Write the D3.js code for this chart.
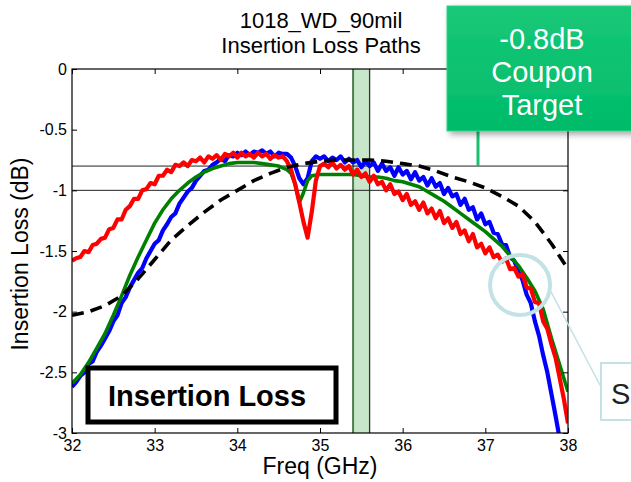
<!DOCTYPE html>
<html><head><meta charset="utf-8">
<script src="https://cdn.jsdelivr.net/npm/d3@7/dist/d3.min.js"></script>
<style>
body{margin:0;background:#fff}
svg{display:block}
text{font-family:"Liberation Sans",Arial,Helvetica,sans-serif}
</style>
</head><body>
<svg id="chart" width="631" height="482"></svg>
<script>
// ---------- data ----------
const titleLines = ["1018_WD_90mil", "Insertion Loss Paths"];
const xTicks = [32, 33, 34, 35, 36, 37, 38];
const yTicks = [0, -0.5, -1, -1.5, -2, -2.5, -3];
const refLines = [-0.8, -1];
const band = [35.4, 35.6];

const blue = [
[32.00,-2.62],[32.05,-2.58],[32.10,-2.53],[32.15,-2.50],[32.20,-2.43],[32.25,-2.41],[32.30,-2.33],[32.35,-2.28],[32.40,-2.22],[32.45,-2.16],
[32.50,-2.08],[32.55,-2.03],[32.60,-1.93],[32.65,-1.88],[32.70,-1.80],[32.75,-1.74],[32.80,-1.68],[32.85,-1.64],[32.90,-1.56],[32.95,-1.50],
[33.00,-1.44],[33.05,-1.41],[33.10,-1.33],[33.15,-1.28],[33.20,-1.22],[33.25,-1.19],[33.30,-1.11],[33.35,-1.06],[33.40,-1.01],[33.45,-0.98],
[33.50,-0.92],[33.55,-0.88],[33.60,-0.84],[33.65,-0.83],[33.70,-0.79],[33.75,-0.77],[33.80,-0.74],[33.85,-0.76],[33.90,-0.71],[33.95,-0.72],
[34.00,-0.69],[34.05,-0.71],[34.10,-0.68],[34.15,-0.71],[34.20,-0.68],[34.25,-0.69],[34.30,-0.67],[34.35,-0.70],[34.40,-0.68],[34.45,-0.72],
[34.50,-0.69],[34.55,-0.70],[34.60,-0.70],[34.65,-0.73],[34.70,-0.80],[34.75,-0.90],[34.80,-0.95],[34.85,-0.90],[34.90,-0.76],[34.95,-0.72],
[35.00,-0.74],[35.05,-0.72],[35.10,-0.76],[35.15,-0.73],[35.20,-0.75],[35.25,-0.72],[35.30,-0.77],[35.35,-0.74],[35.40,-0.77],[35.45,-0.75],
[35.50,-0.81],[35.55,-0.76],[35.60,-0.80],[35.65,-0.77],[35.70,-0.84],[35.75,-0.78],[35.80,-0.84],[35.85,-0.81],[35.90,-0.88],[35.95,-0.81],
[36.00,-0.87],[36.05,-0.84],[36.10,-0.91],[36.15,-0.85],[36.20,-0.92],[36.25,-0.89],[36.30,-0.96],[36.35,-0.90],[36.40,-0.97],[36.45,-0.94],
[36.50,-1.03],[36.55,-0.98],[36.60,-1.05],[36.65,-1.03],[36.70,-1.12],[36.75,-1.07],[36.80,-1.16],[36.85,-1.14],[36.90,-1.24],[36.95,-1.19],
[37.00,-1.28],[37.05,-1.26],[37.10,-1.35],[37.15,-1.36],[37.20,-1.44],[37.25,-1.45],[37.30,-1.55],[37.35,-1.58],[37.40,-1.67],[37.45,-1.74],
[37.50,-1.86],[37.55,-1.93],[37.60,-2.08],[37.65,-2.20],[37.70,-2.36],[37.75,-2.50],[37.80,-2.68],[37.85,-2.86],[37.90,-3.05]
];

const red = [
[32.00,-1.58],[32.05,-1.56],[32.10,-1.55],[32.15,-1.50],[32.20,-1.51],[32.25,-1.45],[32.30,-1.44],[32.35,-1.40],[32.40,-1.39],[32.45,-1.32],
[32.50,-1.31],[32.55,-1.24],[32.60,-1.24],[32.65,-1.16],[32.70,-1.13],[32.75,-1.07],[32.80,-1.07],[32.85,-1.00],[32.90,-0.99],[32.95,-0.94],
[33.00,-0.95],[33.05,-0.88],[33.10,-0.88],[33.15,-0.83],[33.20,-0.85],[33.25,-0.79],[33.30,-0.80],[33.35,-0.77],[33.40,-0.80],[33.45,-0.75],
[33.50,-0.76],[33.55,-0.73],[33.60,-0.77],[33.65,-0.72],[33.70,-0.74],[33.75,-0.71],[33.80,-0.75],[33.85,-0.70],[33.90,-0.72],[33.95,-0.69],
[34.00,-0.73],[34.05,-0.69],[34.10,-0.72],[34.15,-0.70],[34.20,-0.73],[34.25,-0.69],[34.30,-0.72],[34.35,-0.70],[34.40,-0.74],[34.45,-0.71],
[34.50,-0.73],[34.55,-0.72],[34.60,-0.76],[34.65,-0.83],[34.70,-0.95],[34.75,-1.10],[34.80,-1.26],[34.85,-1.39],[34.90,-1.18],[34.95,-0.92],
[35.00,-0.80],[35.05,-0.78],[35.10,-0.81],[35.15,-0.77],[35.20,-0.82],[35.25,-0.79],[35.30,-0.83],[35.35,-0.80],[35.40,-0.87],[35.45,-0.83],
[35.50,-0.89],[35.55,-0.86],[35.60,-0.93],[35.65,-0.88],[35.70,-0.95],[35.75,-0.93],[35.80,-1.00],[35.85,-0.95],[35.90,-1.03],[35.95,-1.01],
[36.00,-1.08],[36.05,-1.03],[36.10,-1.12],[36.15,-1.09],[36.20,-1.16],[36.25,-1.10],[36.30,-1.19],[36.35,-1.15],[36.40,-1.23],[36.45,-1.17],
[36.50,-1.27],[36.55,-1.23],[36.60,-1.31],[36.65,-1.26],[36.70,-1.36],[36.75,-1.33],[36.80,-1.42],[36.85,-1.36],[36.90,-1.47],[36.95,-1.44],
[37.00,-1.52],[37.05,-1.47],[37.10,-1.55],[37.15,-1.53],[37.20,-1.59],[37.25,-1.56],[37.30,-1.65],[37.35,-1.64],[37.40,-1.71],[37.45,-1.69],
[37.50,-1.80],[37.55,-1.81],[37.60,-1.92],[37.65,-1.93],[37.70,-2.08],[37.75,-2.14],[37.80,-2.27],[37.85,-2.38],[37.90,-2.55],[37.95,-2.72],
[38.00,-2.92]
];

const green = [
[32.0,-2.59],[32.1,-2.52],[32.2,-2.42],[32.3,-2.30],[32.4,-2.18],[32.5,-2.03],[32.6,-1.87],[32.7,-1.70],[32.8,-1.55],[32.9,-1.41],
[33.0,-1.27],[33.1,-1.16],[33.2,-1.07],[33.3,-1.00],[33.4,-0.94],[33.5,-0.89],[33.6,-0.85],[33.7,-0.82],[33.8,-0.80],[33.9,-0.78],
[34.0,-0.77],[34.1,-0.77],[34.2,-0.77],[34.3,-0.78],[34.4,-0.79],[34.5,-0.80],[34.6,-0.83],[34.65,-0.86],[34.7,-0.95],[34.75,-1.10],
[34.8,-1.02],[34.85,-0.92],[34.9,-0.88],[35.0,-0.87],[35.1,-0.87],[35.2,-0.87],[35.3,-0.87],[35.4,-0.87],[35.5,-0.88],[35.6,-0.89],
[35.7,-0.89],[35.8,-0.90],[35.9,-0.92],[36.0,-0.93],[36.1,-0.95],[36.2,-0.97],[36.3,-1.01],[36.4,-1.05],[36.5,-1.09],[36.6,-1.14],
[36.7,-1.19],[36.8,-1.24],[36.9,-1.29],[37.0,-1.34],[37.1,-1.40],[37.2,-1.46],[37.3,-1.54],[37.4,-1.62],[37.5,-1.72],[37.6,-1.83],
[37.7,-1.98],[37.8,-2.22],[37.9,-2.44],[38.0,-2.66]
];

const model = [
[32.0,-2.03],[32.2,-2.00],[32.4,-1.95],[32.6,-1.87],[32.8,-1.73],[33.0,-1.57],[33.2,-1.41],[33.4,-1.29],[33.6,-1.18],[33.8,-1.08],
[34.0,-1.00],[34.2,-0.92],[34.4,-0.86],[34.6,-0.81],[34.8,-0.78],[35.0,-0.76],[35.2,-0.75],[35.4,-0.75],[35.6,-0.75],[35.8,-0.76],
[36.0,-0.78],[36.2,-0.80],[36.4,-0.84],[36.6,-0.89],[36.8,-0.93],[37.0,-0.98],[37.2,-1.05],[37.4,-1.13],[37.6,-1.26],[37.8,-1.44],
[38.0,-1.65]
];

const calloutLines = ["-0.8dB", "Coupon", "Target"];
const boxLabel = "Insertion Loss";
const sideLabel = "S";
const zoomSpot = [37.42, -1.78];

// ---------- layout ----------
const L = 72, R = 568, T = 69, B = 433;
const svg = d3.select("#chart");
const x = d3.scaleLinear().domain([32, 38]).range([L, R]);
const y = d3.scaleLinear().domain([-3, 0]).range([B, T]);

const defs = svg.append("defs");
defs.append("clipPath").attr("id", "clip")
  .append("rect").attr("x", L).attr("y", T).attr("width", R - L).attr("height", B - T);
const sh = defs.append("filter").attr("id", "shadow").attr("x", "-20%").attr("y", "-20%").attr("width", "150%").attr("height", "150%");
sh.append("feDropShadow").attr("dx", 3).attr("dy", 3).attr("stdDeviation", 3).attr("flood-color", "#000").attr("flood-opacity", 0.35);
const gr = defs.append("linearGradient").attr("id", "gbox").attr("x1", 0).attr("y1", 0).attr("x2", 0).attr("y2", 1);
gr.append("stop").attr("offset", "0%").attr("stop-color", "#17c877");
gr.append("stop").attr("offset", "100%").attr("stop-color", "#00bb6a");

// title
svg.append("g").selectAll("text").data(titleLines).join("text")
  .attr("x", 321).attr("y", (d, i) => 28 + i * 25)
  .attr("text-anchor", "middle").attr("font-size", 22).attr("fill", "#000")
  .text(d => d);

// band
svg.append("rect").attr("x", x(band[0])).attr("y", T).attr("width", x(band[1]) - x(band[0])).attr("height", B - T)
  .attr("fill", "#c8e6c9");
svg.append("line").attr("x1", x(band[0])).attr("x2", x(band[0])).attr("y1", T).attr("y2", B)
  .attr("stroke", "#4f7f4f").attr("stroke-width", 2);
svg.append("line").attr("x1", x(band[1])).attr("x2", x(band[1])).attr("y1", T).attr("y2", B)
  .attr("stroke", "#333").attr("stroke-width", 1.3);

// reference lines
svg.append("g").selectAll("line").data(refLines).join("line")
  .attr("x1", L).attr("x2", R).attr("y1", d => y(d)).attr("y2", d => y(d))
  .attr("stroke", "#222").attr("stroke-width", 1);

// curves
const line = d3.line().x(d => x(d[0])).y(d => y(d[1]));
const curves = svg.append("g").attr("clip-path", "url(#clip)");
const series = [
  {data: blue, color: "#0000ff", w: 4.2, dash: null},
  {data: green, color: "#008000", w: 3.6, dash: null},
  {data: red, color: "#ff0000", w: 4.2, dash: null},
  {data: model, color: "#000", w: 3.6, dash: "12,7"}
];
curves.selectAll("path").data(series).join("path")
  .attr("d", d => line(d.data)).attr("fill", "none")
  .attr("stroke", d => d.color).attr("stroke-width", d => d.w)
  .attr("stroke-linejoin", "round")
  .attr("stroke-dasharray", d => d.dash);

// axes
const fmt = d => String(d);
const axB = svg.append("g").attr("transform", `translate(0,${B})`)
  .call(d3.axisBottom(x).tickValues(xTicks).tickFormat(fmt).tickSizeInner(-5).tickSizeOuter(0).tickPadding(7));
const axT = svg.append("g").attr("transform", `translate(0,${T})`)
  .call(d3.axisTop(x).tickValues(xTicks).tickFormat("").tickSizeInner(-5).tickSizeOuter(0));
const axL = svg.append("g").attr("transform", `translate(${L},0)`)
  .call(d3.axisLeft(y).tickValues(yTicks).tickFormat(fmt).tickSizeInner(-5).tickSizeOuter(0).tickPadding(5));
const axR = svg.append("g").attr("transform", `translate(${R},0)`)
  .call(d3.axisRight(y).tickValues(yTicks).tickFormat("").tickSizeInner(-5).tickSizeOuter(0));
[axB, axT, axL, axR].forEach(a => {
  a.select(".domain").remove();
  a.selectAll("text").attr("font-size", 16).attr("fill", "#000").attr("font-family", '"Liberation Sans",Arial,sans-serif');
  a.selectAll("line").attr("stroke", "#000");
});
svg.append("rect").attr("x", L).attr("y", T).attr("width", R - L).attr("height", B - T)
  .attr("fill", "none").attr("stroke", "#000").attr("stroke-width", 1.2);

// axis labels
svg.append("text").attr("x", (L + R) / 2).attr("y", 474).attr("text-anchor", "middle")
  .attr("font-size", 23).text("Freq (GHz)");
svg.append("text").attr("transform", `translate(28,254) rotate(-90)`).attr("text-anchor", "middle")
  .attr("font-size", 23).text("Insertion Loss (dB)");

// "Insertion Loss" box
svg.append("rect").attr("x", 88).attr("y", 368).attr("width", 248).attr("height", 54)
  .attr("fill", "#fff").attr("stroke", "#000").attr("stroke-width", 5);
svg.append("text").attr("x", 207).attr("y", 406).attr("text-anchor", "middle")
  .attr("font-size", 29).attr("font-weight", "bold").text(boxLabel);

// magnifier circle + connector + side box
const cx = x(zoomSpot[0]), cy = y(zoomSpot[1]);
svg.append("line").attr("x1", cx + 31).attr("y1", cy + 7).attr("x2", 601).attr("y2", 387)
  .attr("stroke", "#c3e2e5").attr("stroke-width", 1.5);
svg.append("circle").attr("cx", cx).attr("cy", cy).attr("r", 30)
  .attr("fill", "none").attr("stroke", "#c3e2e5").attr("stroke-width", 4);
svg.append("rect").attr("x", 601).attr("y", 363).attr("width", 60).attr("height", 57)
  .attr("fill", "#fff").attr("stroke", "#c3e2e5").attr("stroke-width", 2);
svg.append("text").attr("x", 611).attr("y", 404).attr("font-size", 29).attr("fill", "#222").text(sideLabel);

// callout
svg.append("line").attr("x1", 478).attr("x2", 478).attr("y1", 130).attr("y2", y(-0.8))
  .attr("stroke", "#19c072").attr("stroke-width", 3);
svg.append("rect").attr("x", 447).attr("y", 6).attr("width", 200).attr("height", 125)
  .attr("fill", "url(#gbox)").attr("stroke", "#2fd487").attr("stroke-width", 1).attr("filter", "url(#shadow)");
svg.append("g").selectAll("text").data(calloutLines).join("text")
  .attr("x", 542).attr("y", (d, i) => 49 + i * 33)
  .attr("text-anchor", "middle").attr("font-size", 29).attr("fill", "#fff")
  .text(d => d);
</script>
</body></html>
